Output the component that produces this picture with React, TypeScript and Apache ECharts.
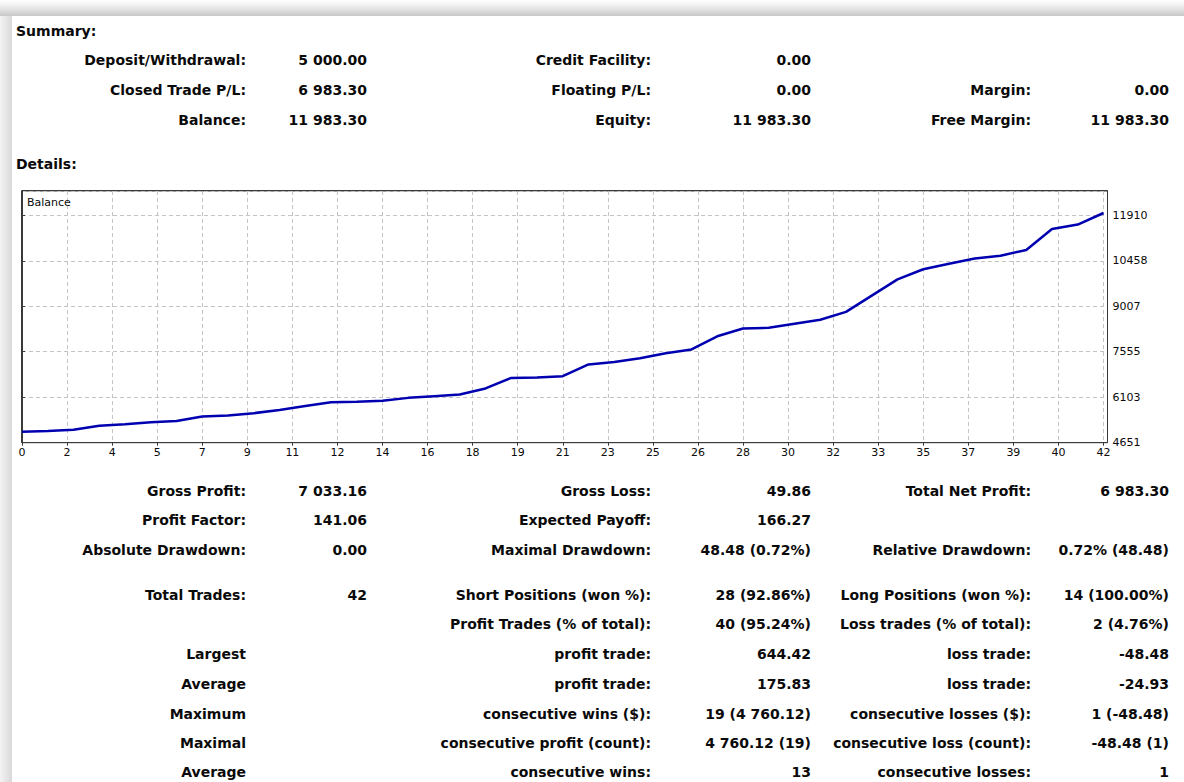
import React, { useEffect, useRef } from 'react';
import * as echarts from 'echarts';

// Balance after each trade (trade 0 = initial deposit)
const balance = [
  5000, 5021, 5065, 5194, 5238, 5303, 5345, 5487, 5519, 5594,
  5692, 5822, 5941, 5962, 5991, 6082, 6135, 6189, 6383, 6719,
  6730, 6773, 7151, 7226, 7345, 7508, 7627, 8048, 8297, 8318,
  8449, 8578, 8827, 9346, 9864, 10188, 10361, 10533, 10621, 10805,
  11475, 11615, 11983.3,
];

const xTickLabels = ['0', '2', '4', '5', '7', '9', '11', '12', '14', '16', '18', '19', '21', '23', '25', '26', '28', '30', '32', '33', '35', '37', '39', '40', '42'];
const yTickLabels = ['4651', '6103', '7555', '9007', '10458', '11910'];

const rowDeposit = ['Deposit/Withdrawal:', '5 000.00', 'Credit Facility:', '0.00', '', ''];
const rowClosed = ['Closed Trade P/L:', '6 983.30', 'Floating P/L:', '0.00', 'Margin:', '0.00'];
const rowBalance = ['Balance:', '11 983.30', 'Equity:', '11 983.30', 'Free Margin:', '11 983.30'];

const rowGross = ['Gross Profit:', '7 033.16', 'Gross Loss:', '49.86', 'Total Net Profit:', '6 983.30'];
const rowFactor = ['Profit Factor:', '141.06', 'Expected Payoff:', '166.27', '', ''];
const rowDrawdown = ['Absolute Drawdown:', '0.00', 'Maximal Drawdown:', '48.48 (0.72%)', 'Relative Drawdown:', '0.72% (48.48)'];
const rowTrades = ['Total Trades:', '42', 'Short Positions (won %):', '28 (92.86%)', 'Long Positions (won %):', '14 (100.00%)'];
const rowProfitTrades = ['', '', 'Profit Trades (% of total):', '40 (95.24%)', 'Loss trades (% of total):', '2 (4.76%)'];
const rowLargest = ['Largest', '', 'profit trade:', '644.42', 'loss trade:', '-48.48'];
const rowAverage = ['Average', '', 'profit trade:', '175.83', 'loss trade:', '-24.93'];
const rowMaximum = ['Maximum', '', 'consecutive wins ($):', '19 (4 760.12)', 'consecutive losses ($):', '1 (-48.48)'];
const rowMaximal = ['Maximal', '', 'consecutive profit (count):', '4 760.12 (19)', 'consecutive loss (count):', '-48.48 (1)'];
const rowAvgConsec = ['Average', '', 'consecutive wins:', '13', 'consecutive losses:', '1'];

const summaryTitle = 'Summary:';
const detailsTitle = 'Details:';
const seriesName = 'Balance';

const xStep = 1.75;
const yBase = 4651;
const yStep = 1451.8;

export default function App() {
  const ref = useRef<HTMLDivElement>(null);

  useEffect(() => {
    if (!ref.current) return;
    const chart = echarts.init(ref.current, null, { renderer: 'svg' });

    const FONT = 'bold 14px "DejaVu Sans"';
    const colRight = [246, 367, 651, 811, 1031, 1169];

    const txt = (text: string, x: number, y: number, align: string, font = FONT) => ({
      type: 'text',
      silent: true,
      z: 10,
      style: {
        text, x, y, font, fill: '#0a0a0a',
        align, verticalAlign: 'middle',
        textAlign: align, textVerticalAlign: 'middle',
      },
    });

    const graphics: any[] = [];
    // page shadow
    graphics.push({
      type: 'rect', silent: true, z: -10,
      shape: { x: 0, y: 0, width: 1184, height: 16 },
      style: {
        fill: new echarts.graphic.LinearGradient(0, 0, 0, 1, [
          { offset: 0, color: '#ffffff' },
          { offset: 0.35, color: '#f0f0f0' },
          { offset: 1, color: '#c8c8c8' },
        ]),
      },
    });
    graphics.push({
      type: 'rect', silent: true, z: -10,
      shape: { x: 0, y: 16, width: 12, height: 766 },
      style: {
        fill: new echarts.graphic.LinearGradient(0, 0, 1, 0, [
          { offset: 0, color: '#f4f4f4' },
          { offset: 1, color: '#d8d8d8' },
        ]),
      },
    });

    graphics.push(txt(summaryTitle, 16, 31, 'left'));
    graphics.push(txt(detailsTitle, 16, 164, 'left'));

    const rows: [string[], number][] = [
      [rowDeposit, 60], [rowClosed, 90], [rowBalance, 120],
      [rowGross, 491], [rowFactor, 520], [rowDrawdown, 550],
      [rowTrades, 595], [rowProfitTrades, 624], [rowLargest, 654],
      [rowAverage, 684], [rowMaximum, 714], [rowMaximal, 743], [rowAvgConsec, 772],
    ];
    rows.forEach(([row, y]) => {
      row.forEach((s, i) => {
        if (s) graphics.push(txt(s, colRight[i], y, 'right'));
      });
    });

    graphics.push(txt(seriesName, 27, 202, 'left', '11px "DejaVu Sans"'));

    // solid frame around the plot
    graphics.push({
      type: 'rect', silent: true, z: 20,
      shape: { x: 21.5, y: 190.5, width: 1086, height: 252 },
      style: { fill: 'none', stroke: '#3a3a3a', lineWidth: 1 },
    });

    const fmt = (labels: string[], step: number) => (v: number) => {
      const k = v / step;
      const r = Math.round(k);
      return Math.abs(k - r) < 1e-6 && r >= 0 && r < labels.length ? labels[r] : '';
    };

    const gridLeft = 22;
    const gridRightEdge = 1107.5;
    const gridTop = 191;
    const gridBottomEdge = 442.7;
    const pxPerTrade = (1103.5 - gridLeft) / 42;
    const xMax = (gridRightEdge - gridLeft) / pxPerTrade;
    const pxPerVal = (gridBottomEdge - 215.3) / (yStep * 5);
    const yMax = (gridBottomEdge - gridTop) / pxPerVal;

    chart.setOption({
      animation: false,
      backgroundColor: '#ffffff',
      graphic: { elements: graphics },
      grid: {
        left: gridLeft,
        top: gridTop,
        right: 1184 - gridRightEdge,
        bottom: 782 - gridBottomEdge,
        show: true,
        borderColor: '#3a3a3a',
        borderWidth: 1,
        backgroundColor: '#ffffff',
      },
      xAxis: {
        type: 'value',
        min: 0,
        max: xMax,
        interval: xStep,
        axisLine: { show: true, lineStyle: { color: '#3a3a3a', width: 1 } },
        axisTick: { show: true, length: 3, lineStyle: { color: '#3a3a3a' } },
        axisLabel: {
          formatter: fmt(xTickLabels, xStep),
          fontFamily: 'DejaVu Sans',
          fontSize: 11,
          color: '#0a0a0a',
          margin: 4,
          showMaxLabel: false,
        },
        splitLine: { show: true, lineStyle: { color: '#c4c4c4', type: [4, 3], width: 1 } },
      },
      yAxis: {
        type: 'value',
        position: 'right',
        min: 0,
        max: yMax,
        interval: yStep,
        axisLine: { show: true, lineStyle: { color: '#3a3a3a', width: 1 } },
        axisTick: { show: true, length: 3, lineStyle: { color: '#3a3a3a' } },
        axisLabel: {
          formatter: fmt(yTickLabels, yStep),
          fontFamily: 'DejaVu Sans',
          fontSize: 11,
          color: '#0a0a0a',
          margin: 5,
          showMaxLabel: false,
        },
        splitLine: { show: true, lineStyle: { color: '#c4c4c4', type: [4, 3], width: 1 } },
      },
      series: [
        {
          name: seriesName,
          type: 'line',
          data: balance.map((b, i) => [i, b - yBase]),
          showSymbol: false,
          symbol: 'none',
          lineStyle: { color: '#0000b0', width: 2.5 },
          clip: true,
        },
      ],
    });

    return () => chart.dispose();
  }, []);

  return (
    <div
      ref={ref}
      style={{ position: 'absolute', left: 0, top: 0, width: 1184, height: 782 }}
    />
  );
}
